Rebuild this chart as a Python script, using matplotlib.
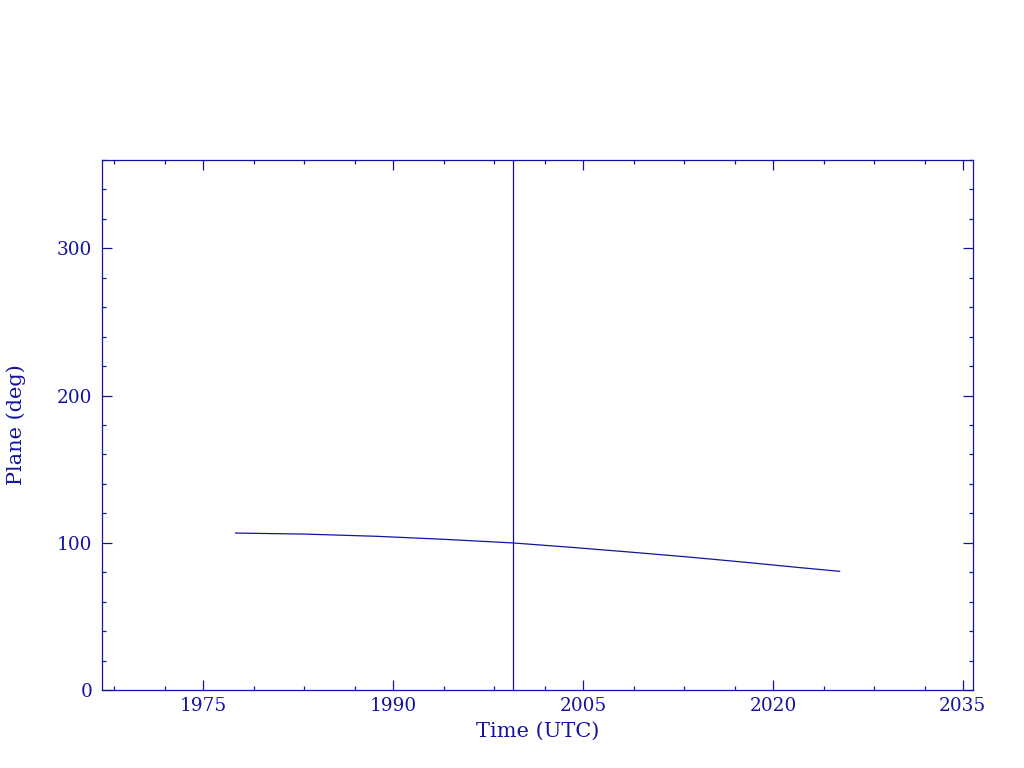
import matplotlib
matplotlib.use("Agg")
import matplotlib.pyplot as plt
import numpy as np
from matplotlib.ticker import FixedLocator

# Data
years = [1977.58, 1983.03, 1988.72, 1993.93, 1999.45, 2003.95, 2008.85,
         2013.5, 2017.77, 2021.8, 2025.27]
plane = [106.6, 105.9, 104.4, 102.4, 99.9, 97.0, 93.6, 90.2, 86.8, 83.4, 80.6]
epoch_line = 1999.47
major_x = [1975, 1990, 2005, 2020, 2035]
minor_x = [1968, 1972, 1979, 1983, 1987, 1994, 1998, 2002, 2009, 2013, 2017,
           2024, 2028, 2032]
major_y = [0, 100, 200, 300]
minor_y = [v for v in range(0, 361, 20) if v % 100 != 0]

C = '#1414a0'
plt.rcParams['font.family'] = ['DejaVu Serif']

fig = plt.figure(figsize=(10.24, 7.68), dpi=100)
ax = fig.add_axes([102/1024, 78/768, (973-102)/1024, (690-160)/768])

ax.plot(years, plane, color=C, lw=0.9)
ax.axvline(epoch_line, color=C, lw=0.9)

ax.set_xlim(1967.03, 2035.8)
ax.set_ylim(0, 360)

ax.xaxis.set_major_locator(FixedLocator(major_x))
ax.xaxis.set_minor_locator(FixedLocator(minor_x))
ax.yaxis.set_major_locator(FixedLocator(major_y))
ax.yaxis.set_minor_locator(FixedLocator(minor_y))

for s in ax.spines.values():
    s.set_color(C)
    s.set_linewidth(0.9)

ax.tick_params(which='both', direction='in', top=True, right=True,
               color=C, labelcolor=C, width=0.9, labelsize=13.3)
ax.tick_params(which='major', length=7.5)
ax.tick_params(which='minor', length=3)
ax.tick_params(axis='x', which='major', pad=5)
ax.tick_params(axis='y', which='major', pad=7)

ax.set_xlabel('Time (UTC)', color=C, fontsize=15, labelpad=5)
ax.set_ylabel('Plane (deg)', color=C, fontsize=15, labelpad=22)

fig.savefig('out.png', dpi=100, facecolor='white')
